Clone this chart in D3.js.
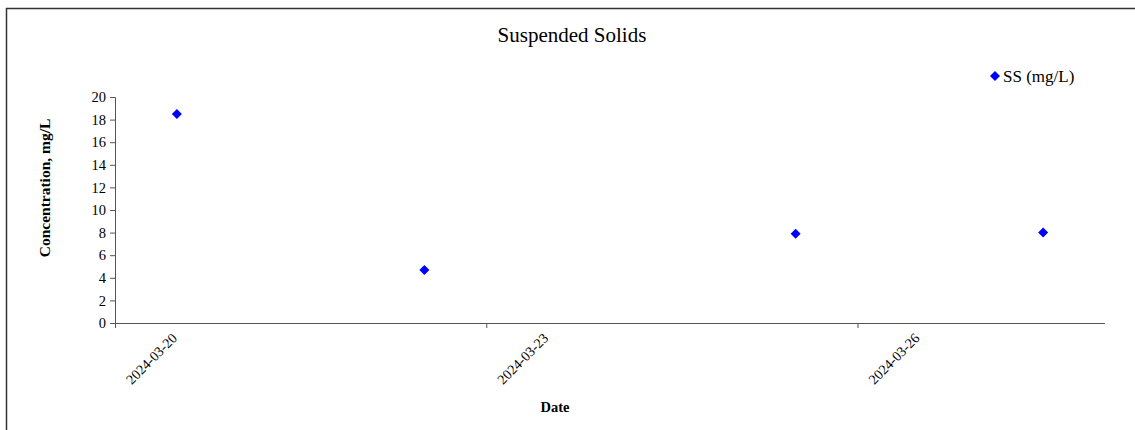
<!DOCTYPE html>
<html>
<head>
<meta charset="utf-8">
<script src="https://cdn.jsdelivr.net/npm/d3@7"></script>
<style>
  body { margin: 0; background: #fff; }
  svg text { font-family: "Liberation Serif", "Times New Roman", serif; fill: #000; }
</style>
</head>
<body>
<div id="chart"></div>
<script>
// data
var dates = ["2024-03-20T12:00", "2024-03-22T12:00", "2024-03-25T12:00", "2024-03-27T12:00"]
var ssValues = [18.5, 4.7, 7.9, 8.0]
var xTickLabels = ["2024-03-20", "2024-03-23", "2024-03-26"]
var yTicks = [0, 2, 4, 6, 8, 10, 12, 14, 16, 18, 20]
var seriesName = "SS (mg/L)"

var width = 1135, height = 430
var margin = {top: 97, right: 30, bottom: 107, left: 115}
var serif = "Liberation Serif"

var parse = d3.timeParse("%Y-%m-%dT%H:%M")
var parseDay = d3.timeParse("%Y-%m-%d")
var data = dates.map((d, i) => ({date: parse(d), value: ssValues[i]}))

var svg = d3.select("#chart")
    .append("svg")
    .attr("width", width)
    .attr("height", height)

// chart frame (only top and left edges show)
svg.append("path")
    .attr("d", "M6.5,430 L6.5,8.5 L1135,8.5")
    .attr("fill", "none")
    .attr("stroke", "#333")
    .attr("stroke-width", 1.5)

var x = d3.scaleTime()
    .domain([parseDay("2024-03-20"), parseDay("2024-03-28")])
    .range([margin.left, width - margin.right])

var y = d3.scaleLinear()
    .domain([0, 20])
    .range([height - margin.bottom, margin.top])

// y axis
var yAxis = svg.append("g")
    .attr("transform", "translate(" + margin.left + ",0)")
    .call(d3.axisLeft(y).tickValues(yTicks).tickSize(5).tickPadding(4))
yAxis.selectAll("path, line").attr("stroke", "#555")
yAxis.selectAll("text")
    .style("font-family", serif)
    .style("font-size", "14.5px")
    .attr("fill", "#000")

// x axis
var xAxis = svg.append("g")
    .attr("transform", "translate(0," + (height - margin.bottom) + ")")
    .call(d3.axisBottom(x).tickValues(xTickLabels.map(parseDay)).tickSize(5).tickFormat(""))
xAxis.selectAll("path, line").attr("stroke", "#555")
xAxis.select(".domain").attr("d", "M" + margin.left + ",0.5H" + (width - margin.right))

svg.append("g").selectAll("text")
    .data(xTickLabels)
    .enter()
    .append("text")
    .attr("transform", d => "translate(" + (x(parseDay(d)) + 63) + "," + (height - margin.bottom + 16) + ") rotate(-45)")
    .attr("text-anchor", "end")
    .style("font-family", serif)
    .style("font-size", "14px")
    .text(d => d)

// points
var diamond = d3.symbol().type(d3.symbolDiamond2).size(64)
svg.append("g").selectAll("path")
    .data(data)
    .enter()
    .append("path")
    .attr("d", diamond)
    .attr("transform", d => "translate(" + x(d.date) + "," + y(d.value) + ")")
    .attr("fill", "#0000ff")

// titles
svg.append("text")
    .attr("x", 572)
    .attr("y", 42)
    .attr("text-anchor", "middle")
    .style("font-family", serif)
    .style("font-size", "21px")
    .text("Suspended Solids")

svg.append("text")
    .attr("transform", "translate(50,188) rotate(-90)")
    .attr("text-anchor", "middle")
    .style("font-family", serif)
    .style("font-size", "15.5px")
    .style("font-weight", "bold")
    .text("Concentration, mg/L")

svg.append("text")
    .attr("x", 555)
    .attr("y", 412)
    .attr("text-anchor", "middle")
    .style("font-family", serif)
    .style("font-size", "14.5px")
    .style("font-weight", "bold")
    .text("Date")

// legend
var legend = svg.append("g").attr("transform", "translate(995,76)")
legend.append("path")
    .attr("d", diamond)
    .attr("fill", "#0000ff")
legend.append("text")
    .attr("x", 8)
    .attr("y", 5.5)
    .style("font-family", serif)
    .style("font-size", "17px")
    .text(seriesName)
</script>
</body>
</html>
